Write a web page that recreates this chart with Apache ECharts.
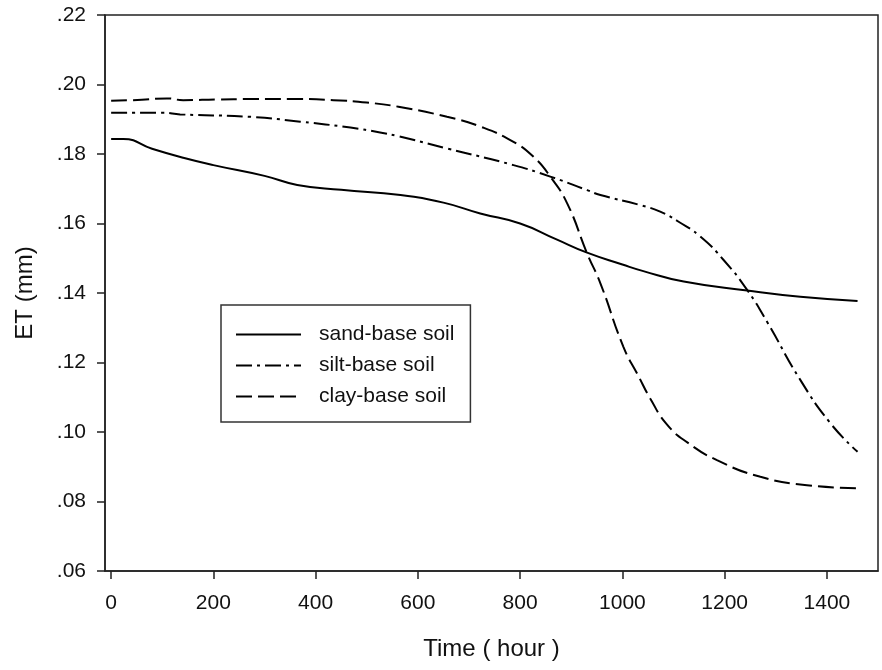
<!DOCTYPE html>
<html>
<head>
<meta charset="utf-8">
<script src="https://cdn.jsdelivr.net/npm/echarts@6/dist/echarts.min.js"></script>
<style>
	html, body { margin: 0; padding: 0; background: #fff; }
	#chart { width: 882px; height: 670px; }
</style>
</head>
<body>
<div id="chart"></div>
<script>
	// values, time in hours, ET in mm
	const sandTime = [0, 24, 80, 141, 200, 300, 364, 450, 566, 650, 722, 800, 870, 931, 1000, 1041, 1120, 1244, 1348, 1460]
	const sandET = [0.1843, 0.1843, 0.1815, 0.1789, 0.1768, 0.1737, 0.1711, 0.1697, 0.1682, 0.1660, 0.1629, 0.1600, 0.1555, 0.1516, 0.1482, 0.1463, 0.1433, 0.1407, 0.1389, 0.1377]

	const siltTime = [0, 102, 135, 272, 370, 468, 526, 562, 657, 787, 859, 931, 957, 1035, 1074, 1110, 1153, 1198, 1244, 1283, 1348, 1407, 1460]
	const siltET = [0.1919, 0.1919, 0.1914, 0.1907, 0.1893, 0.1876, 0.1862, 0.1851, 0.1816, 0.1768, 0.1735, 0.1696, 0.1682, 0.1653, 0.1634, 0.1605, 0.1562, 0.1495, 0.1409, 0.1317, 0.1150, 0.1025, 0.0943]

	const clayTime = [0, 60, 109, 141, 207, 272, 370, 435, 500, 562, 657, 722, 787, 826, 859, 892, 931, 957, 1002, 1030, 1055, 1087, 1127, 1185, 1270, 1361, 1460]
	const clayET = [0.1953, 0.1956, 0.1960, 0.1955, 0.1957, 0.1958, 0.1958, 0.1955, 0.1948, 0.1936, 0.1907, 0.1879, 0.1835, 0.1792, 0.1735, 0.1658, 0.1514, 0.1428, 0.1245, 0.1165, 0.1095, 0.1022, 0.0970, 0.0919, 0.0871, 0.0847, 0.0838]

	const xTicks = [0, 200, 400, 600, 800, 1000, 1200, 1400]
	const seriesNames = ['sand-base soil', 'silt-base soil', 'clay-base soil']

	const font = '"Liberation Sans", Arial, sans-serif'
	const zip = (xs, ys) => xs.map((x, i) => [x, ys[i]])

	const chart = echarts.init(document.getElementById('chart'), null, { renderer: 'canvas' })

	const lineSeries = (name, data, type) => ({
		name: name,
		type: 'line',
		data: data,
		symbol: 'none',
		smooth: 0.5,
		lineStyle: { color: '#000', width: 2, type: type },
		itemStyle: { color: '#000' }
	})

	chart.setOption({
		animation: false,
		grid: {
			left: 105, right: 4, top: 15, bottom: 99,
			show: true,
			borderColor: '#222',
			borderWidth: 1.5
		},
		legend: {
			orient: 'vertical',
			left: 221,
			top: 305,
			data: seriesNames,
			itemWidth: 65,
			itemHeight: 14,
			itemGap: 10,
			padding: [19, 16, 15, 14],
			backgroundColor: '#fff',
			borderColor: '#333',
			borderWidth: 1.5,
			itemStyle: { opacity: 0 },
			textStyle: {
				fontFamily: font,
				fontSize: 21,
				color: '#111',
				padding: [0, 0, 0, 13]
			}
		},
		xAxis: {
			type: 'value',
			min: -12,
			max: 1500,
			name: 'Time ( hour )',
			nameLocation: 'middle',
			nameGap: 66,
			nameTextStyle: { fontFamily: font, fontSize: 24, color: '#111' },
			axisLine: { show: true, onZero: false, lineStyle: { color: '#222', width: 1.5 } },
			axisTick: { show: true, inside: false, length: 8, customValues: xTicks, lineStyle: { color: '#222', width: 1.5 } },
			axisLabel: {
				customValues: xTicks,
				margin: 22,
				fontFamily: font,
				fontSize: 21,
				color: '#111',
				formatter: (v) => String(v)
			},
			splitLine: { show: false }
		},
		yAxis: {
			type: 'value',
			min: 0.06,
			max: 0.22,
			interval: 0.02,
			name: 'ET (mm)',
			nameLocation: 'middle',
			nameGap: 68,
			nameTextStyle: { fontFamily: font, fontSize: 24, color: '#111' },
			axisLine: { show: true, onZero: false, lineStyle: { color: '#222', width: 1.5 } },
			axisTick: { show: true, inside: false, length: 8, lineStyle: { color: '#222', width: 1.5 } },
			axisLabel: {
				margin: 19,
				fontFamily: font,
				fontSize: 21,
				color: '#111',
				formatter: (v) => v.toFixed(2).slice(1)
			},
			splitLine: { show: false }
		},
		series: [
			lineSeries(seriesNames[0], zip(sandTime, sandET), 'solid'),
			lineSeries(seriesNames[1], zip(siltTime, siltET), [16, 5, 3, 5]),
			lineSeries(seriesNames[2], zip(clayTime, clayET), [16, 6])
		]
	})

	window.addEventListener('resize', () => {
		chart.resize()
	})
</script>
</body>
</html>
